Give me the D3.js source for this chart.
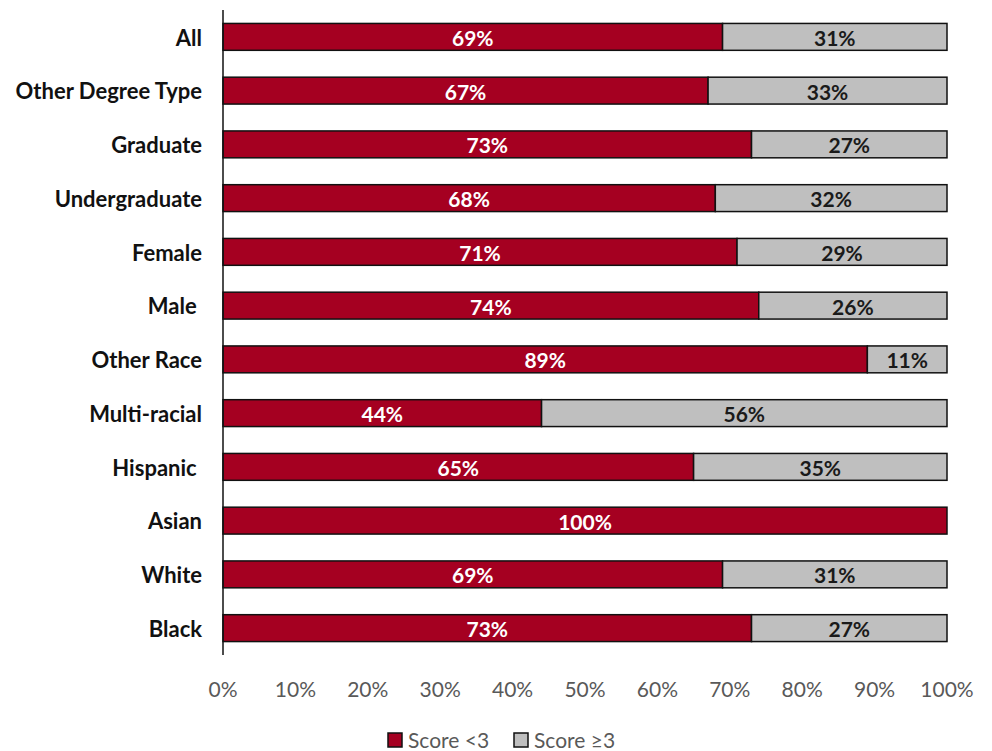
<!DOCTYPE html>
<html>
<head>
<meta charset="utf-8">
<script src="https://cdn.jsdelivr.net/npm/d3@7"></script>
<style>
  body { margin: 0; background: #fff; }
  svg text { font-family: Lato, "Open Sans", sans-serif; white-space: pre; }
</style>
</head>
<body>
<svg id="chart" width="992" height="751"></svg>
<script>
// Groups, top to bottom
const categories = ["All", "Other Degree Type", "Graduate", "Undergraduate", "Female", "Male ",
  "Other Race", "Multi-racial", "Hispanic ", "Asian", "White", "Black"];
// Share of respondents (%) per group
const scoreBelow3 = [69, 67, 73, 68, 71, 74, 89, 44, 65, 100, 69, 73];
const scoreAtLeast3 = [31, 33, 27, 32, 29, 26, 11, 56, 35, 0, 31, 27];
const seriesNames = ["Score <3", "Score \u22653"];
const seriesColors = ["#A50021", "#BFBFBF"];
const labelColors = ["#FFFFFF", "#1A1A1A"];
const tickValues = [0, 10, 20, 30, 40, 50, 60, 70, 80, 90, 100];

const svg = d3.select("#chart");
const margin = { left: 223, right: 45, top: 10, bottom: 96 };
const W = 992, H = 751;

const x = d3.scaleLinear().domain([0, 100]).range([margin.left, W - margin.right]);
const y = d3.scaleBand().domain(categories).range([margin.top, H - margin.bottom]).paddingInner(0.5).paddingOuter(0.25);

const rows = categories.map((c, i) => ({ cat: c, vals: [scoreBelow3[i], scoreAtLeast3[i]] }));
const segs = [];
rows.forEach(r => {
  let start = 0;
  r.vals.forEach((v, k) => {
    segs.push({ cat: r.cat, k, start, end: start + v, v });
    start += v;
  });
});

// Bars
svg.append("g").selectAll("rect").data(segs.filter(d => d.v > 0)).join("rect")
  .attr("x", d => x(d.start))
  .attr("y", d => y(d.cat))
  .attr("width", d => x(d.end) - x(d.start))
  .attr("height", y.bandwidth())
  .attr("fill", d => seriesColors[d.k])
  .attr("stroke", "#111")
  .attr("stroke-width", 1.5);

// Value labels
svg.append("g").selectAll("text").data(segs.filter(d => d.v > 0)).join("text")
  .attr("x", d => (x(d.start) + x(d.end)) / 2)
  .attr("y", d => y(d.cat) + y.bandwidth() / 2 + 9)
  .attr("text-anchor", "middle")
  .attr("font-size", 21)
  .attr("font-weight", 700)
  .attr("fill", d => labelColors[d.k])
  .text(d => d.v + "%");

// Category axis
const yAxis = svg.append("g").attr("transform", `translate(${margin.left},0)`)
  .call(d3.axisLeft(y).tickSize(0).tickPadding(21));
yAxis.select(".domain").attr("stroke", "#111").attr("stroke-width", 1.5)
  .attr("d", `M0,${margin.top}V${H - margin.bottom}`);
yAxis.selectAll("text").attr("font-size", 22).attr("font-weight", 700).attr("fill", "#111")
  .attr("dy", "0.4em");

// Percent axis (labels only)
svg.append("g").selectAll("text").data(tickValues).join("text")
  .attr("x", d => x(d))
  .attr("y", 697)
  .attr("text-anchor", "middle")
  .attr("font-size", 21)
  .attr("fill", "#595959")
  .text(d => d + "%");

// Legend
const legend = svg.append("g");
const legendX = [388, 514];
seriesNames.forEach((name, k) => {
  legend.append("rect").attr("x", legendX[k]).attr("y", 733).attr("width", 14).attr("height", 14)
    .attr("fill", seriesColors[k]).attr("stroke", "#111").attr("stroke-width", 1.5);
  legend.append("text").attr("x", legendX[k] + 20).attr("y", 748)
    .attr("font-size", 21).attr("fill", "#595959").text(name);
});
</script>
</body>
</html>
